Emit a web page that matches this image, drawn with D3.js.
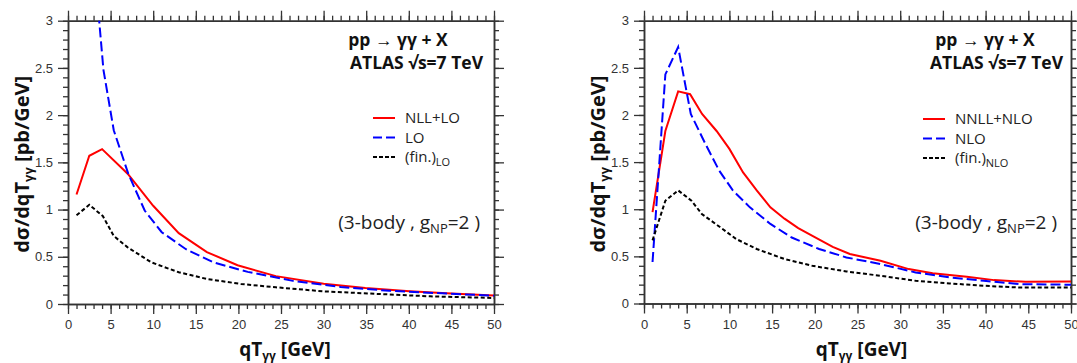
<!DOCTYPE html>
<html>
<head>
<meta charset="utf-8">
<script src="https://cdn.jsdelivr.net/npm/d3@7"></script>
<style>
  body { margin: 0; background: #fff; }
  svg { display: block; font-family: "Open Sans", sans-serif; }
  .tick text { fill: #333; font-size: 13px; }
</style>
</head>
<body>
<div id="chart"></div>
<script>
// values
var qtLeft   = [1, 2.5, 4, 7, 10, 13, 16.3, 19.9, 24.4, 30, 34.9, 40.1, 45, 50];
var nllLO    = [1.16, 1.57, 1.64, 1.38, 1.04, 0.75, 0.55, 0.41, 0.295, 0.215, 0.17, 0.135, 0.11, 0.09];
var qtLO     = [1, 2.5, 4.16, 5.37, 7.07, 9, 11, 13.85, 17.1, 21.1, 26.4, 32, 37.7, 44.5, 50];
var lo       = [9, 4.2, 2.48, 1.84, 1.38, 0.99, 0.76, 0.58, 0.44, 0.34, 0.245, 0.18, 0.14, 0.11, 0.088];
var qtFinLO  = [1, 2.5, 4.1, 5.37, 7, 9.8, 13, 16.3, 20.3, 24.4, 30, 36.5, 42.5, 50];
var finLO    = [0.94, 1.05, 0.93, 0.72, 0.6, 0.44, 0.336, 0.265, 0.212, 0.177, 0.134, 0.106, 0.081, 0.064];

var qtNNLL   = [1, 2.5, 4, 5.4, 6.8, 8.5, 10, 11.6, 13.2, 14.8, 16.45, 18.06, 20.1, 22.1, 24.1, 27.7, 31, 33.8, 37.8, 41, 44.7, 50];
var nnllNLO  = [0.97, 1.83, 2.25, 2.22, 2.01, 1.83, 1.64, 1.39, 1.2, 1.02, 0.9, 0.8, 0.7, 0.6, 0.525, 0.454, 0.365, 0.32, 0.284, 0.248, 0.23, 0.234];
var qtNLO    = [1, 2.5, 4, 5.48, 7.18, 8.8, 10.4, 12.4, 14.8, 17.3, 20.5, 23.7, 27.7, 31.8, 35.8, 39.8, 43.9, 50];
var nlo      = [0.44, 2.43, 2.72, 2.01, 1.695, 1.41, 1.2, 1.02, 0.844, 0.7, 0.578, 0.489, 0.418, 0.33, 0.277, 0.241, 0.206, 0.199];
var qtFinNLO = [1, 2.5, 4, 5.56, 6.77, 8.39, 10.8, 13.2, 16.45, 19.7, 23.7, 27.7, 31.8, 35.8, 39.8, 43.9, 50];
var finNLO   = [0.67, 1.09, 1.2, 1.09, 0.95, 0.844, 0.684, 0.578, 0.472, 0.4, 0.34, 0.294, 0.241, 0.213, 0.188, 0.17, 0.17];

var xMajor = d3.range(0, 51, 5);
var xMinor = d3.range(0, 51, 1);
var yMajor = [0, 0.5, 1, 1.5, 2, 2.5, 3];
var yMinor = d3.range(0, 3.01, 0.1);

var svg = d3.select("#chart").append("svg")
    .attr("width", 1077)
    .attr("height", 363);

function zip(xs, ys) {
    return xs.map(function(d, i) { return [d, ys[i]]; });
}

// draws one panel
function drawPanel(p) {
    var x = d3.scaleLinear().domain([0, 50]).range([p.left, p.right]);
    var y = d3.scaleLinear().domain([0, 3]).range([p.bottom, p.top]);

    var g = svg.append("g");

    g.append("clipPath").attr("id", p.id + "clip")
        .append("rect")
        .attr("x", p.left).attr("y", p.top)
        .attr("width", p.right - p.left).attr("height", p.bottom - p.top);

    // minor ticks
    g.append("g").attr("transform", "translate(0," + p.bottom + ")")
        .call(d3.axisBottom(x).tickValues(xMinor).tickSize(5).tickSizeOuter(0).tickFormat(""));
    g.append("g").attr("transform", "translate(0," + p.top + ")")
        .call(d3.axisTop(x).tickValues(xMinor).tickSize(5).tickSizeOuter(0).tickFormat(""));
    g.append("g").attr("transform", "translate(" + p.left + ",0)")
        .call(d3.axisLeft(y).tickValues(yMinor).tickSize(5).tickSizeOuter(0).tickFormat(""));
    g.append("g").attr("transform", "translate(" + p.right + ",0)")
        .call(d3.axisRight(y).tickValues(yMinor).tickSize(5).tickSizeOuter(0).tickFormat(""));

    // major ticks
    g.append("g").attr("transform", "translate(0," + p.bottom + ")")
        .call(d3.axisBottom(x).tickValues(xMajor).tickSize(10).tickSizeOuter(0).tickPadding(6));
    g.append("g").attr("transform", "translate(0," + p.top + ")")
        .call(d3.axisTop(x).tickValues(xMajor).tickSize(10).tickSizeOuter(0).tickFormat(""));
    g.append("g").attr("transform", "translate(" + p.left + ",0)")
        .call(d3.axisLeft(y).tickValues(yMajor).tickSize(10).tickSizeOuter(0).tickPadding(5)
            .tickFormat(function(d) { return d3.format("")(d); }));
    g.append("g").attr("transform", "translate(" + p.right + ",0)")
        .call(d3.axisRight(y).tickValues(yMajor).tickSize(10).tickSizeOuter(0).tickFormat(""));

    g.selectAll(".domain").attr("stroke", "#333").attr("stroke-width", 1.5);
    g.selectAll(".tick line").attr("stroke", "#333").attr("stroke-width", 1.3);

    var line = d3.line().x(function(d) { return x(d[0]); }).y(function(d) { return y(d[1]); });
    var curves = g.append("g").attr("clip-path", "url(#" + p.id + "clip)");

    p.series.forEach(function(s) {
        curves.append("path")
            .datum(zip(s.x, s.y))
            .attr("fill", "none")
            .attr("stroke", s.color)
            .attr("stroke-width", 2)
            .attr("stroke-dasharray", s.dash)
            .attr("d", line);
    });

    // axis titles
    var yt = g.append("text")
        .attr("transform", "translate(" + (p.left - 39) + "," + ((p.top + p.bottom) / 2 + 2) + ") rotate(-90)")
        .attr("text-anchor", "middle")
        .style("font-size", "20px").style("font-weight", "bold").attr("fill", "#111");
    yt.append("tspan").text("dσ/dqT");
    yt.append("tspan").attr("dy", 4).style("font-size", "13px").text("γγ");
    yt.append("tspan").attr("dy", -4).text(" [pb/GeV]");

    var xt = g.append("text")
        .attr("x", (p.left + p.right) / 2 + 4).attr("y", p.bottom + 52)
        .attr("text-anchor", "middle")
        .style("font-size", "19px").style("font-weight", "bold").attr("fill", "#111");
    xt.append("tspan").text("qT");
    xt.append("tspan").attr("dy", 4).style("font-size", "12px").text("γγ");
    xt.append("tspan").attr("dy", -4).text(" [GeV]");

    // process label
    g.append("text")
        .attr("x", p.right - p.procOff).attr("y", p.top + 25)
        .attr("text-anchor", "middle")
        .style("font-size", "17.5px").style("font-weight", "bold").attr("fill", "#111")
        .text("pp → γγ + X");
    g.append("text")
        .attr("x", p.right - p.atlasOff).attr("y", p.top + 48)
        .attr("text-anchor", "end")
        .style("font-size", "17.5px").style("font-weight", "bold").attr("fill", "#111")
        .text("ATLAS  √s=7 TeV");

    // legend
    p.series.forEach(function(s, i) {
        var ly = p.legY + i * 19.5;
        g.append("line")
            .attr("x1", p.legX).attr("x2", p.legX + 22)
            .attr("y1", ly).attr("y2", ly)
            .attr("stroke", s.color).attr("stroke-width", 2)
            .attr("stroke-dasharray", s.legDash);
        var t = g.append("text")
            .attr("x", p.legX + 32).attr("y", ly + 5)
            .style("font-size", "15px").attr("fill", "#222");
        t.append("tspan").text(s.label);
        if (s.sub) {
            t.append("tspan").attr("dy", 4).style("font-size", "11px").text(s.sub);
        }
    });

    var nt = g.append("text")
        .attr("x", p.right - 14).attr("y", p.top + 208)
        .attr("text-anchor", "end")
        .style("font-size", "19px").attr("fill", "#222");
    nt.append("tspan").text("(3-body , g");
    nt.append("tspan").attr("dy", 4).style("font-size", "13px").text("NP");
    nt.append("tspan").attr("dy", -4).text("=2 )");
}

drawPanel({
    id: "left", left: 68, right: 494, top: 20.7, bottom: 304,
    legX: 373, legY: 118, procOff: 96, atlasOff: 11,
    series: [
        {x: qtLeft, y: nllLO, color: "#ff0000", dash: null, legDash: null, label: "NLL+LO"},
        {x: qtLO, y: lo, color: "#0000ff", dash: "10,4", legDash: "9,4", label: "LO"},
        {x: qtFinLO, y: finLO, color: "#000000", dash: "4,2.5", legDash: "4,2", label: "(fin.)", sub: "LO"}
    ]
});

drawPanel({
    id: "right", left: 644, right: 1071, top: 20.7, bottom: 303.5,
    legX: 923, legY: 119, procOff: 86, atlasOff: 8,
    series: [
        {x: qtNNLL, y: nnllNLO, color: "#ff0000", dash: null, legDash: null, label: "NNLL+NLO"},
        {x: qtNLO, y: nlo, color: "#0000ff", dash: "10,4", legDash: "9,4", label: "NLO"},
        {x: qtFinNLO, y: finNLO, color: "#000000", dash: "4,2.5", legDash: "4,2", label: "(fin.)", sub: "NLO"}
    ]
});
</script>
</body>
</html>
